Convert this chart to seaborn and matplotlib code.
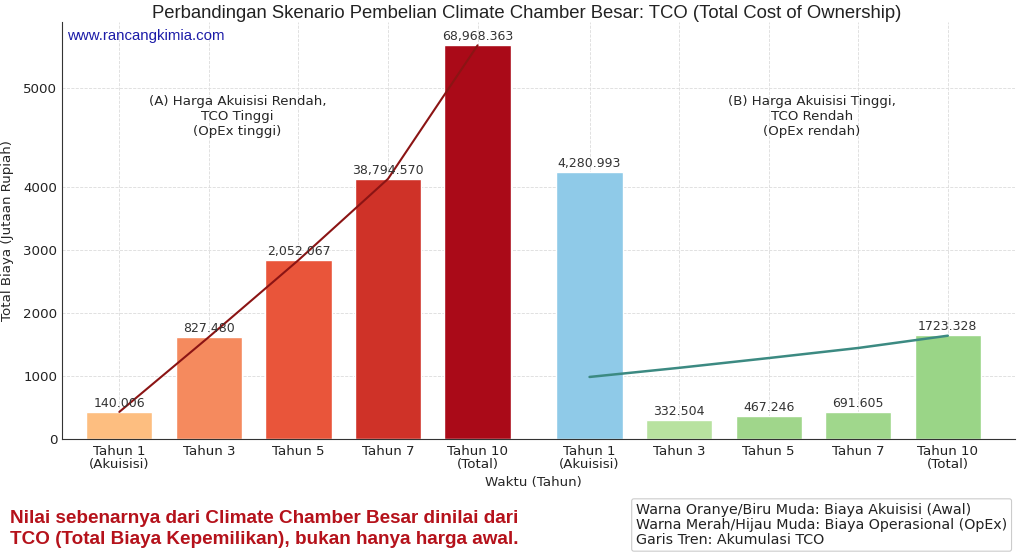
import pandas as pd
import seaborn as sns
import matplotlib.pyplot as plt

# bar positions (A group, gap, then B group)
pos_a = [0, 1, 2, 3, 4]
pos_b = [5.25, 6.25, 7.25, 8.25, 9.25]
tick_labels = ['Tahun 1\n(Akuisisi)', 'Tahun 3', 'Tahun 5', 'Tahun 7', 'Tahun 10\n(Total)']

# bar heights
val_a = [430, 1620, 2840, 4130, 6250]
val_b = [4240, 300, 370, 430, 1650]

# value labels printed above the bars
lbl_a = ['140.006', '827.480', '2,052.067', '38,794.570', '68,968.363']
lbl_b = ['4,280.993', '332.504', '467.246', '691.605', '1723.328']

# trend lines (accumulated TCO)
trend_a = [430, 1620, 2840, 4130, 6250]
trend_b = [985, 1130, 1285, 1445, 1640]

col_a = ['#FDBE80', '#F58A5E', '#E9553A', '#CF3228', '#AA0A18']
col_b = ['#8FCAE8', '#B8E2A0', '#A0D68B', '#A0D78C', '#9AD587']

ytick_pos = [0, 1000, 2000, 3000, 4000, 5570]
ytick_lbl = ['0', '1000', '2000', '3000', '4000', '5000']

df = pd.DataFrame({
    'pos': pos_a + pos_b,
    'value': val_a + val_b,
    'key': [f'a{i}' for i in range(5)] + [f'b{i}' for i in range(5)],
})
palette = dict(zip(df['key'], col_a + col_b))

sns.set_style('white')
fig = plt.figure(figsize=(10.24, 5.59), dpi=100)
ax = fig.add_axes([62 / 1024, 120 / 559, 953 / 1024, 417 / 559])

sns.barplot(data=df, x='pos', y='value', hue='key', palette=palette,
            native_scale=True, dodge=False, width=0.74, legend=False,
            saturation=1, ax=ax)
sns.lineplot(x=pos_a, y=trend_a, color='#8B1414', linewidth=1.5, ax=ax)
sns.lineplot(x=pos_b, y=trend_b, color='#3C8A82', linewidth=1.8, ax=ax)

for x, h, t in zip(pos_a + pos_b, val_a + val_b, lbl_a + lbl_b):
    ax.annotate(t, (x, h), xytext=(0, 1.5), textcoords='offset points',
                ha='center', va='bottom', fontsize=9, color='#333333')

ax.set_xlim(-0.64, 10.0)
ax.set_ylim(0, 6620)
ax.set_xticks(pos_a + pos_b, tick_labels * 2, fontsize=9.6, linespacing=1.0)
ax.set_yticks(ytick_pos, ytick_lbl, fontsize=9.6)
ax.tick_params(axis='x', length=3.5, width=0.8, color='#333333', colors='#222222', pad=0.8)
ax.tick_params(axis='y', length=3, width=0.8, color='#333333', colors='#222222', pad=0.5)
ax.grid(True, linestyle='--', linewidth=0.6, color='#dcdcdc')
ax.set_axisbelow(True)
for s in ['top', 'right']:
    ax.spines[s].set_visible(False)
for s in ['left', 'bottom']:
    ax.spines[s].set_color('#333333')
ax.set_xlabel('Waktu (Tahun)', fontsize=9.6)
ax.set_ylabel('Total Biaya (Jutaan Rupiah)', fontsize=9.6)
ax.xaxis.set_label_coords(0.495, -0.088)
ax.yaxis.set_label_coords(-0.05, 0.5)

ax.text(1.32, 5120, '(A) Harga Akuisisi Rendah,\nTCO Tinggi\n(OpEx tinggi)',
        ha='center', va='center', fontsize=9.6, linespacing=1.2)
ax.text(7.73, 5120, '(B) Harga Akuisisi Tinggi,\nTCO Rendah\n(OpEx rendah)',
        ha='center', va='center', fontsize=9.6, linespacing=1.2)

fig.text(527 / 1024, 1 - 13 / 559, 'Perbandingan Skenario Pembelian Climate Chamber Besar: TCO (Total Cost of Ownership)',
         ha='center', va='center', fontsize=13.3, family='Liberation Sans', color='#222222')
fig.text(67 / 1024, 1 - 36 / 559, 'www.rancangkimia.com', ha='left', va='center',
         fontsize=10.8, family='Liberation Sans', color='#1c1ca8')
fig.text(10 / 1024, 1 - 529 / 559,
         'Nilai sebenarnya dari Climate Chamber Besar dinilai dari\nTCO (Total Biaya Kepemilikan), bukan hanya harga awal.',
         ha='left', va='center', fontsize=13.6, family='Liberation Sans', weight='bold',
         color='#B5121B', linespacing=1.3)
fig.text(636 / 1024, 1 - 525 / 559,
         'Warna Oranye/Biru Muda: Biaya Akuisisi (Awal)\nWarna Merah/Hijau Muda: Biaya Operasional (OpEx)\nGaris Tren: Akumulasi TCO',
         ha='left', va='center', fontsize=10.3, color='#222222', linespacing=1.08,
         bbox=dict(boxstyle='round,pad=0.3,rounding_size=0.15', fc='white', ec='#cccccc', lw=0.8))

fig.savefig('out.png', dpi=100)
